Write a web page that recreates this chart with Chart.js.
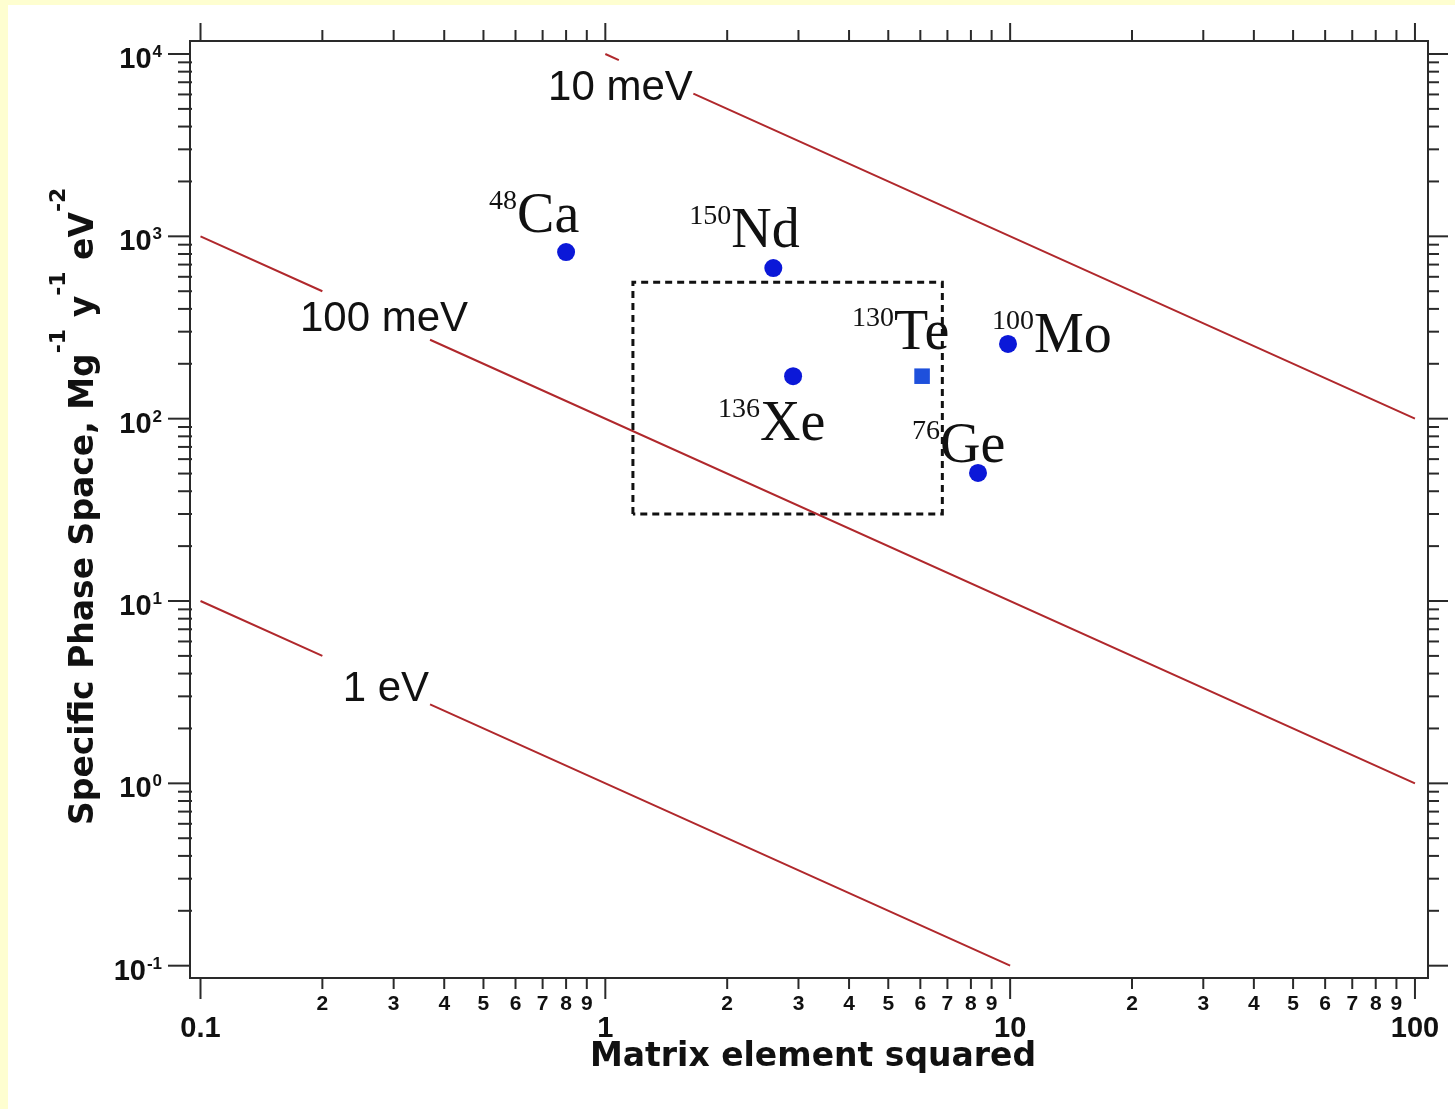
<!DOCTYPE html>
<html>
<head>
<meta charset="utf-8">
<title>Specific phase space vs matrix element squared</title>
<script src="https://cdn.jsdelivr.net/npm/chart.js@4.4.0/dist/chart.umd.min.js"></script>
<style>
  html, body { margin: 0; padding: 0; background: #fefed0; }
  #wrap { position: absolute; left: 8px; top: 5px; width: 1447px; height: 1104px; background: #fff; }
</style>
</head>
<body>
<div id="wrap"><canvas id="phaseChart" width="1447" height="1104"></canvas></div>
<script>
// axis ticks
const xMajorTicks = [0.1, 1, 10, 100];
const xMajorLabels = ['0.1', '1', '10', '100'];
const minorDigits = [2, 3, 4, 5, 6, 7, 8, 9];
const yMajorTicks = [0.1, 1, 10, 100, 1000, 10000];
const yExponents = ['-1', '0', '1', '2', '3', '4'];

// isotopes: matrix element squared vs specific phase space
const isotopeNames = ['Ca', 'Nd', 'Xe', 'Te', 'Mo', 'Ge'];
const massNumbers = ['48', '150', '136', '130', '100', '76'];
const matrixElementSq = [0.80, 2.60, 2.91, 6.06, 9.88, 8.33];
const phaseSpace = [820, 670, 171, 171, 257, 50.4];

// lines of constant mass, null = gap left for the label
const line10meV = [[1, 10000], [1.08, 9260], null, [1.65, 6060], [100, 100]];
const line100meV = [[0.1, 1000], [0.2, 500], null, [0.369, 271], [100, 1]];
const line1eV = [[0.1, 10], [0.2, 5], null, [0.369, 2.71], [10, 0.1]];
const lineLabels = ['10 meV', '100 meV', '1 eV'];

// dashed box
const boxX = [1.17, 1.17, 6.8, 6.8, 1.17];
const boxY = [30, 560, 560, 30, 30];

const toXY = pts => pts.map(p => p ? { x: p[0], y: p[1] } : { x: NaN, y: NaN });

const redLine = data => ({
    data: toXY(data),
    showLine: true,
    borderColor: '#b0282c',
    borderWidth: 2,
    pointRadius: 0,
    tension: 0
});

const circles = [], squares = [];
isotopeNames.forEach((n, i) => {
    const p = { x: matrixElementSq[i], y: phaseSpace[i] };
    if (n === 'Te') squares.push(p); else circles.push(p);
});

// label placement (pixels from the point: left edge of mass number, baseline)
const isoLabelOffset = [[-77, -20], [-84, -21], [-75, 64], [-70, -27], [-16, 8], [-66, -11]];
// energy labels (data coords, centre / baseline)
const lineLabelAt = [[1.09, 5600], [0.284, 303], [0.287, 2.83]];

const axesPlugin = {
    id: 'axesPlugin',
    afterDraw(chart) {
        const { ctx, chartArea: a, scales: { x, y } } = chart;
        ctx.save();

        // frame
        ctx.strokeStyle = '#2a2a2a';
        ctx.lineWidth = 2;
        ctx.strokeRect(a.left, a.top, a.right - a.left, a.bottom - a.top);

        const xMinor = [], yMinor = [];
        [0.1, 1, 10].forEach(d => minorDigits.forEach(m => xMinor.push({ v: m * d, m })));
        [0.1, 1, 10, 100, 1000].forEach(d => minorDigits.forEach(m => yMinor.push(m * d)));

        const tick = (x1, y1, x2, y2) => {
            ctx.beginPath(); ctx.moveTo(x1, y1); ctx.lineTo(x2, y2); ctx.stroke();
        };
        ctx.lineWidth = 2;
        xMajorTicks.forEach(v => {
            const px = x.getPixelForValue(v);
            tick(px, a.bottom, px, a.bottom + 21);
            tick(px, a.top, px, a.top - 18);
        });
        xMinor.forEach(t => {
            const px = x.getPixelForValue(t.v);
            tick(px, a.bottom, px, a.bottom + 11);
            tick(px, a.top, px, a.top - 11);
        });
        yMajorTicks.forEach(v => {
            const py = y.getPixelForValue(v);
            tick(a.left - 22, py, a.left, py);
            tick(a.right, py, a.right + 20, py);
        });
        yMinor.forEach(v => {
            const py = y.getPixelForValue(v);
            tick(a.left - 12, py, a.left + 2, py);
            tick(a.right - 1, py, a.right + 11, py);
        });

        // x tick labels
        ctx.fillStyle = '#111';
        ctx.textAlign = 'center';
        ctx.textBaseline = 'alphabetic';
        ctx.font = 'bold 21px "Liberation Sans", Arial, sans-serif';
        xMinor.forEach(t => ctx.fillText(String(t.m), x.getPixelForValue(t.v), a.bottom + 32));
        ctx.font = 'bold 29px "Liberation Sans", Arial, sans-serif';
        xMajorTicks.forEach((v, i) => ctx.fillText(xMajorLabels[i], x.getPixelForValue(v), a.bottom + 59));

        // y tick labels: 10 with exponent
        yMajorTicks.forEach((v, i) => {
            const py = y.getPixelForValue(v);
            const expRight = a.left - 28;
            ctx.textAlign = 'right';
            ctx.font = 'bold 17px "Liberation Sans", Arial, sans-serif';
            const ew = ctx.measureText(yExponents[i]).width;
            ctx.fillText(yExponents[i], expRight, py + 3);
            ctx.font = 'bold 29px "Liberation Sans", Arial, sans-serif';
            ctx.fillText('10', expRight - ew - 1, py + 14);
        });

        // axis titles
        ctx.textAlign = 'center';
        ctx.font = 'bold 33px "DejaVu Sans", sans-serif';
        ctx.fillText('Matrix element squared', a.left + 623, a.bottom + 88);

        const yTitle = [['Specific Phase Space, Mg', 0], ['-1', 1], [' y', 0], ['-1', 1], [' eV', 0], ['-2', 1]];
        ctx.save();
        ctx.translate(a.left - 97, a.bottom - 153);
        ctx.rotate(-Math.PI / 2);
        ctx.textAlign = 'left';
        let cx = 0;
        yTitle.forEach(([txt, sup]) => {
            ctx.font = sup ? 'bold 22px "DejaVu Sans", sans-serif' : 'bold 33px "DejaVu Sans", sans-serif';
            ctx.fillText(txt, cx, sup ? -28 : 0);
            cx += ctx.measureText(txt).width;
        });
        ctx.restore();

        // energy labels on the lines
        ctx.textAlign = 'center';
        ctx.font = '42px "Liberation Sans", Arial, sans-serif';
        lineLabels.forEach((t, i) => {
            ctx.fillText(t, x.getPixelForValue(lineLabelAt[i][0]), y.getPixelForValue(lineLabelAt[i][1]));
        });

        // isotope labels
        ctx.textAlign = 'left';
        isotopeNames.forEach((n, i) => {
            const px = x.getPixelForValue(matrixElementSq[i]) + isoLabelOffset[i][0];
            const py = y.getPixelForValue(phaseSpace[i]) + isoLabelOffset[i][1];
            ctx.font = '28px "Liberation Serif", "Times New Roman", serif';
            ctx.fillText(massNumbers[i], px, py - 23);
            const w = ctx.measureText(massNumbers[i]).width;
            ctx.font = '56px "Liberation Serif", "Times New Roman", serif';
            ctx.fillText(n, px + w, py);
        });

        ctx.restore();
    }
};

new Chart(document.getElementById('phaseChart'), {
    type: 'scatter',
    data: {
        datasets: [
            redLine(line10meV),
            redLine(line100meV),
            redLine(line1eV),
            {
                data: boxX.map((v, i) => ({ x: v, y: boxY[i] })),
                showLine: true,
                borderColor: '#111',
                borderWidth: 3,
                borderDash: [7, 5],
                pointRadius: 0,
                tension: 0
            },
            {
                data: circles,
                pointRadius: 9,
                pointBackgroundColor: '#0b18d8',
                pointBorderWidth: 0
            },
            {
                data: squares,
                pointStyle: 'rect',
                pointRadius: 11,
                pointBackgroundColor: '#1e50dc',
                pointBorderWidth: 0
            }
        ]
    },
    options: {
        responsive: false,
        animation: false,
        layout: { padding: { left: 182, top: 36, right: 27, bottom: 131 } },
        plugins: { legend: { display: false }, tooltip: { enabled: false } },
        scales: {
            x: { type: 'logarithmic', display: false, bounds: 'data', min: 0.0942, max: 107.7 },
            y: { type: 'logarithmic', display: false, bounds: 'data', min: 0.0856, max: 11784 }
        }
    },
    plugins: [axesPlugin]
});
</script>
</body>
</html>
